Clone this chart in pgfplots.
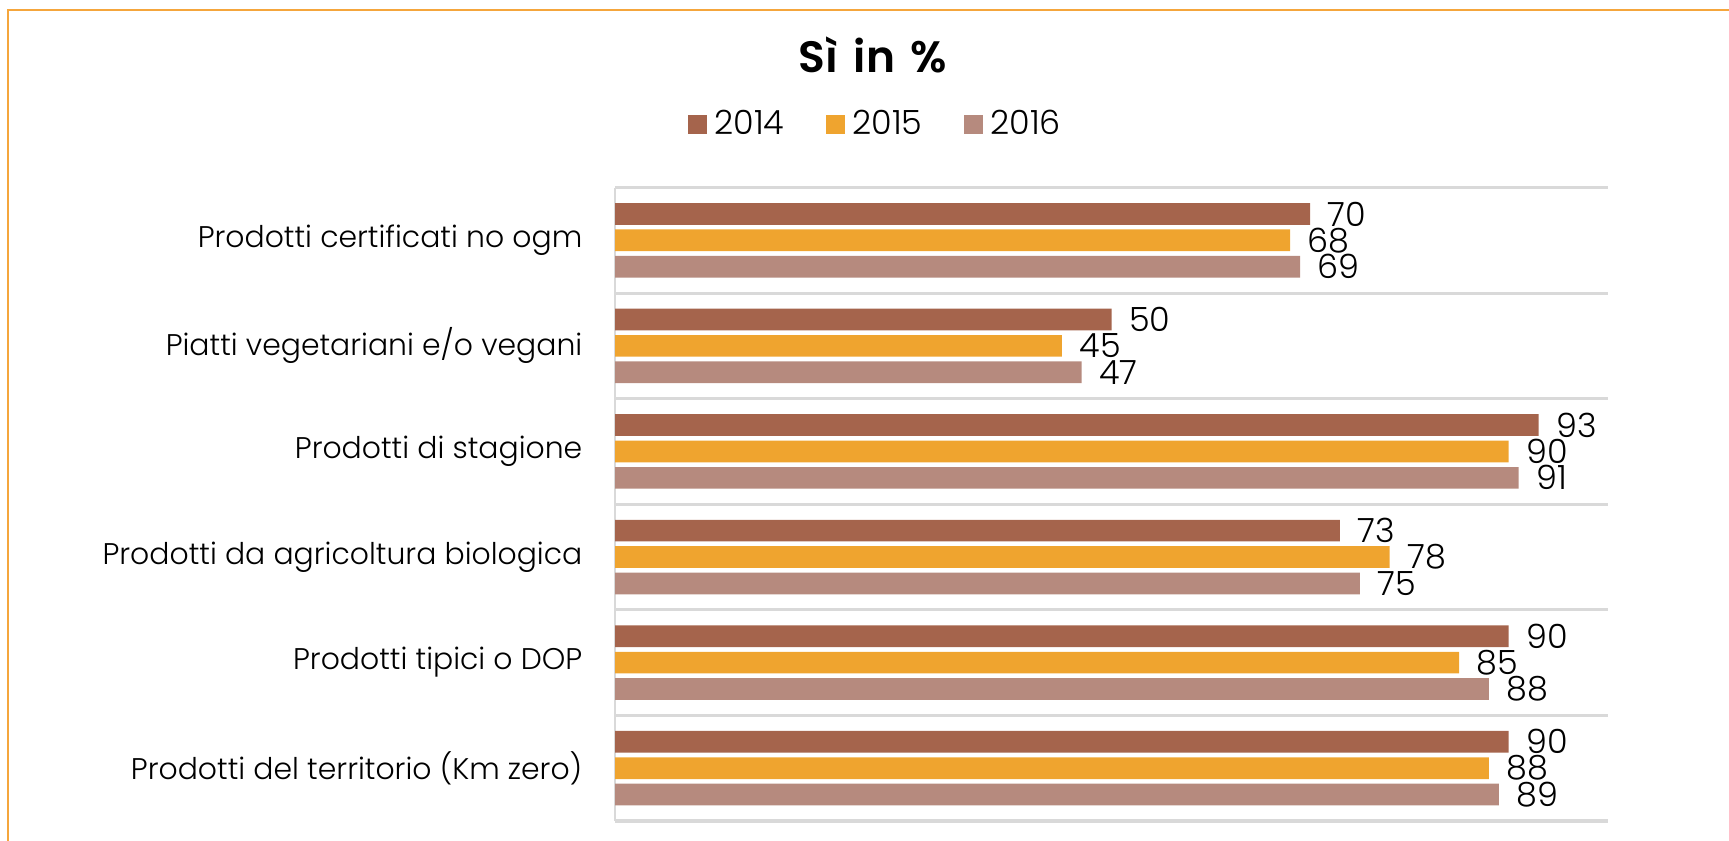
\documentclass[border=0pt]{standalone}
\usepackage{pgfplots}
\pgfplotsset{compat=1.18}
\usepackage{fontspec}
\setmainfont{Poppins}[UprightFont=* Light, BoldFont=* SemiBold]
\definecolor{c14}{RGB}{165,100,76}
\definecolor{c15}{RGB}{239,164,47}
\definecolor{c16}{RGB}{182,138,126}
\definecolor{gridgray}{RGB}{217,217,217}
\definecolor{framecol}{RGB}{245,166,60}
\begin{document}
\begin{tikzpicture}[x=1cm,y=1cm]
\useasboundingbox (0,0) rectangle (17.29,8.41);
\draw[framecol, line width=0.02cm] (0.08,0) -- (0.08,8.31) -- (17.29,8.31);
\node[font=\bfseries\fontsize{12.5}{14}\selectfont] at (8.73,7.86) {Sì\hspace{0.12em} in\hspace{0.12em} \%};
\begin{axis}[
  at={(6.15cm,0.20cm)}, anchor=south west, scale only axis,
  width=9.93cm, height=6.335cm,
  xmin=0, xmax=100, ymin=-0.5, ymax=5.5,
  xbar, bar width=0.217cm, bar shift=0pt,
  hide x axis,
  axis y line*=left,
  y axis line style={gridgray, line width=0.8pt, -},
  ytick={0,...,5},
  yticklabels={Prodotti del territorio (Km zero), Prodotti tipici o DOP, Prodotti da agricoltura biologica, Prodotti di stagione, Piatti vegetariani e/o vegani, Prodotti certificati no ogm},
  major tick length=0pt, minor tick length=0pt,
  minor ytick={-0.5,0.5,...,5.5},
  yminorgrids, minor grid style={gridgray, line width=0.9pt},
  yticklabel style={font=\fontsize{8.5}{10}\selectfont, inner sep=0pt, xshift=-0.32cm},
  point meta=x,
  nodes near coords,
  nodes near coords style={font=\fontsize{9.5}{11}\selectfont, anchor=west, inner sep=0pt, xshift=0.17cm, text=black},
  /pgf/number format/assume math mode=true,
  legend columns=3,
  legend style={at={(0.265,1.0987)}, anchor=center, draw=none, fill=none,
    font=\fontsize{9.5}{11}\selectfont,
    /tikz/every even column/.append style={column sep=0.35cm}},
  legend image code/.code={\fill[#1] (0cm,-0.095cm) rectangle (0.19cm,0.095cm);},
]
\addplot[fill=c14, draw=none] coordinates {(90,0.25) (90,1.25) (73,2.25) (93,3.25) (50,4.25) (70,5.25)};
\addplot[fill=c15, draw=none] coordinates {(88,0) (85,1) (78,2) (90,3) (45,4) (68,5)};
\addplot[fill=c16, draw=none] coordinates {(89,-0.25) (88,0.75) (75,1.75) (91,2.75) (47,3.75) (69,4.75)};
\legend{2014,2015,2016}
\end{axis}
\end{tikzpicture}
\end{document}
